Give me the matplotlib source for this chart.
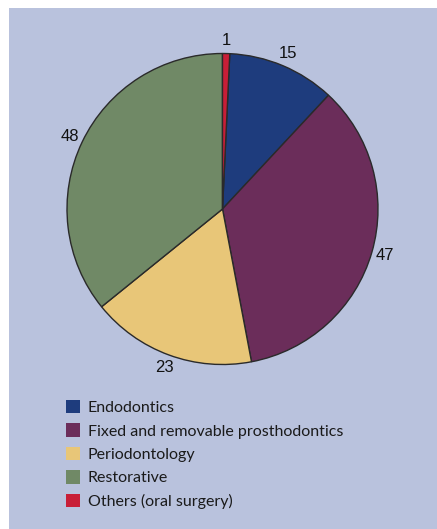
import matplotlib
matplotlib.use("Agg")
import matplotlib.pyplot as plt
from matplotlib.patches import Rectangle, Patch

# share of cases by speciality
categories = ['Endodontics', 'Fixed and removable prosthodontics', 'Periodontology',
              'Restorative', 'Others (oral surgery)']
counts = [15, 47, 23, 48, 1]
colors = ['#1e3c7d', '#6b2d5a', '#e8c678', '#708966', '#c81e37']
panel_color = '#b9c2dd'

W, H = 437, 529
fig = plt.figure(figsize=(W / 100, H / 100), dpi=100)
fig.patch.set_facecolor('white')

# lavender panel behind everything
fig.patches.append(Rectangle((9 / W, 0), 1 - 9 / W, (H - 8) / H, transform=fig.transFigure,
                             facecolor=panel_color, edgecolor='none', zorder=-10))

cx, cy, r = 222.5, 209, 155.5
ax = fig.add_axes([(cx - r) / W, (H - cy - r) / H, 2 * r / W, 2 * r / H])
# start so that the last slice (Others) ends exactly at 12 o'clock
start = 90 - 360 * counts[-1] / sum(counts)
wedges, texts = ax.pie(counts, labels=[str(c) for c in counts], colors=colors,
                       startangle=start, counterclock=False, labeldistance=1.085,
                       wedgeprops=dict(edgecolor='#2a2a2a', linewidth=1.0),
                       textprops=dict(fontsize=12, family='Liberation Sans', color='#111111'))
for t in texts:
    t.set_ha('center')
    t.set_va('center')
ax.set_xlim(-1, 1)
ax.set_ylim(-1, 1)
ax.set_facecolor('none')

handles = [Patch(facecolor=c, edgecolor='none') for c in colors]
fig.legend(handles, categories, loc='upper left', bbox_to_anchor=(66 / W, (H - 400) / H),
           frameon=False, handlelength=0.9, handleheight=0.9,
           handletextpad=0.45, labelspacing=0.52, borderaxespad=0, borderpad=0,
           prop=dict(family='Lato', size=11.5), labelcolor='#1a1a1a')

fig.savefig('out.png', dpi=100, facecolor='white')
